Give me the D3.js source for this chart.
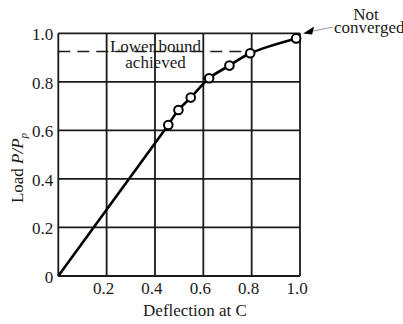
<!DOCTYPE html>
<html>
<head>
<meta charset="utf-8">
<script src="https://cdn.jsdelivr.net/npm/d3@7"></script>
<style>
  body { margin: 0; background: #fff; }
  svg { display: block; font-family: "Liberation Serif", "DejaVu Serif", serif; }
</style>
</head>
<body>
<svg id="chart" width="403" height="324"></svg>
<script>
// data
const deflection = [0, 0.455, 0.497, 0.548, 0.624, 0.708, 0.794, 0.984];
const load = [0, 0.622, 0.684, 0.735, 0.815, 0.867, 0.918, 0.979];
const xTicks = [0.2, 0.4, 0.6, 0.8, 1.0];
const yTicks = [0, 0.2, 0.4, 0.6, 0.8, 1.0];
const gridValues = [0, 0.2, 0.4, 0.6, 0.8, 1.0];
const lowerBound = 0.925;
const lowerBoundEnd = 0.775;

document.addEventListener("DOMContentLoaded", () => {
    const svg = d3.select("#chart");
    const ink = "#1a1a1a";
    const fs = "17px";

    const x = d3.scaleLinear().domain([0, 1]).range([58.3, 300]);
    const y = d3.scaleLinear().domain([0, 1]).range([276, 33.3]);

    // grid
    gridValues.forEach(v => {
        svg.append("line")
            .attr("x1", x(v)).attr("x2", x(v))
            .attr("y1", y(0)).attr("y2", y(1))
            .attr("stroke", ink).attr("stroke-width", 1.8);
        svg.append("line")
            .attr("x1", x(0)).attr("x2", x(1))
            .attr("y1", y(v)).attr("y2", y(v))
            .attr("stroke", ink).attr("stroke-width", 1.8);
    });

    // tick labels
    svg.selectAll(".xt").data(xTicks).join("text")
        .attr("x", d => x(d) - 3)
        .attr("y", y(0) + 18)
        .attr("text-anchor", "middle")
        .attr("font-size", fs)
        .attr("fill", ink)
        .text(d => d.toFixed(1));

    svg.selectAll(".yt").data(yTicks).join("text")
        .attr("x", x(0) - 5)
        .attr("y", d => y(d) + 7)
        .attr("text-anchor", "end")
        .attr("font-size", fs)
        .attr("fill", ink)
        .text(d => d === 0 ? "0" : d.toFixed(1));

    // axis titles
    svg.append("text")
        .attr("x", 195)
        .attr("y", 316)
        .attr("text-anchor", "middle")
        .attr("font-size", fs)
        .attr("fill", ink)
        .text("Deflection at C");

    const yl = svg.append("text")
        .attr("transform", "translate(23,168) rotate(-90)")
        .attr("text-anchor", "middle")
        .attr("font-size", fs)
        .attr("fill", ink);
    yl.append("tspan").text("Load ");
    yl.append("tspan").attr("font-style", "italic").text("P/P");
    yl.append("tspan").attr("font-style", "italic").attr("font-size", "11px").attr("dy", 4).text("p");

    // lower bound dashed line
    svg.append("line")
        .attr("x1", x(0)).attr("x2", x(lowerBoundEnd))
        .attr("y1", y(lowerBound)).attr("y2", y(lowerBound))
        .attr("stroke", ink).attr("stroke-width", 1.5)
        .attr("stroke-dasharray", "12,7");

    svg.append("text")
        .attr("x", 155.5).attr("y", 51.5)
        .attr("text-anchor", "middle")
        .attr("font-size", fs)
        .attr("fill", ink)
        .text("Lower bound");
    svg.append("text")
        .attr("x", 155.5).attr("y", 67.5)
        .attr("text-anchor", "middle")
        .attr("font-size", fs)
        .attr("fill", ink)
        .text("achieved");

    // load-deflection curve: straight elastic part, then curved part
    const pts = deflection.map((d, i) => [d, load[i]]);
    const line = d3.line().x(d => x(d[0])).y(d => y(d[1]));

    svg.append("path")
        .attr("d", line(pts.slice(0, 2)))
        .attr("fill", "none")
        .attr("stroke", "#000").attr("stroke-width", 2.6);

    svg.append("path")
        .attr("d", line.curve(d3.curveCatmullRom.alpha(0.5))(pts.slice(1)))
        .attr("fill", "none")
        .attr("stroke", "#000").attr("stroke-width", 2.6);

    svg.selectAll(".pt").data(pts.slice(1)).join("circle")
        .attr("cx", d => x(d[0]))
        .attr("cy", d => y(d[1]))
        .attr("r", 4.3)
        .attr("fill", "#fff")
        .attr("stroke", "#000")
        .attr("stroke-width", 2);

    // "Not converged" annotation
    const last = pts[pts.length - 1];
    const tipX = x(last[0]) + 7, tipY = y(last[1]) - 5;
    svg.append("line")
        .attr("x1", tipX + 8).attr("y1", tipY - 2)
        .attr("x2", 333).attr("y2", 27)
        .attr("stroke", "#999").attr("stroke-width", 1);
    svg.append("path")
        .attr("d", `M${tipX},${tipY} L${tipX + 11},${tipY - 7} L${tipX + 9},${tipY + 1} Z`)
        .attr("fill", "#000");

    svg.append("text")
        .attr("x", 366).attr("y", 20)
        .attr("text-anchor", "middle")
        .attr("font-size", fs)
        .attr("fill", ink)
        .text("Not");
    svg.append("text")
        .attr("x", 334).attr("y", 33)
        .attr("font-size", fs)
        .attr("fill", ink)
        .text("converged");
});
</script>
</body>
</html>
